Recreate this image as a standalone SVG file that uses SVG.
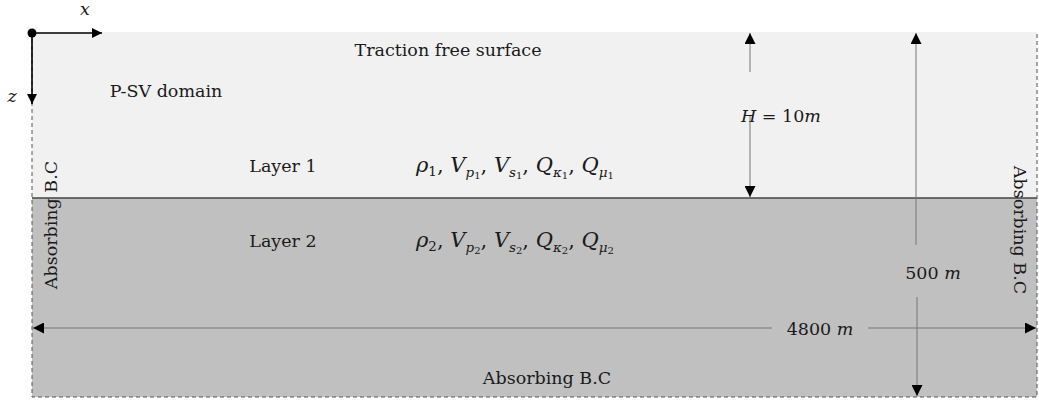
<svg xmlns="http://www.w3.org/2000/svg" width="1039" height="403" viewBox="0 0 1039 403">
<style>
text{font-family:"DejaVu Serif","Liberation Serif",serif;font-size:17.5px;fill:#1a1a1a}
.c{text-anchor:middle}
.i{font-style:italic}
.s{font-size:13.5px}
.ss{font-size:10px}
.dim{stroke:#777;stroke-width:1;fill:none}
.ax{stroke:#000;stroke-width:1.6;fill:none}
</style>
<defs>
<marker id="ah" viewBox="0 0 10 10" refX="10" refY="5" markerWidth="10" markerHeight="10" markerUnits="userSpaceOnUse" orient="auto-start-reverse"><path d="M0,0 L10,5 L0,10 Z" fill="#000"/></marker>
<marker id="ah2" viewBox="0 0 10 10" refX="10" refY="5" markerWidth="11" markerHeight="11" markerUnits="userSpaceOnUse" orient="auto-start-reverse"><path d="M0,0 L10,5 L0,10 Z" fill="#000"/></marker>
</defs>
<g id="layer1"><rect x="32" y="32" width="1005" height="166" fill="#f1f1f1"/></g>
<g id="layer2"><rect x="32" y="198" width="1005" height="199" fill="#c0c0c0"/></g>
<g id="boundary">
<path d="M32,32 V397 H1037 V32" fill="none" stroke="#555" stroke-width="1" stroke-dasharray="4,3"/>
<line x1="32" y1="198" x2="1037" y2="198" stroke="#444" stroke-width="1.6"/>
</g>
<g id="connectors">
<line class="ax" x1="32" y1="33" x2="102" y2="33" marker-end="url(#ah)"/>
<line class="ax" x1="32" y1="33" x2="32" y2="104" marker-end="url(#ah)"/>
<line class="dim" x1="750" y1="72" x2="750" y2="33" marker-end="url(#ah2)"/>
<line class="dim" x1="750" y1="116" x2="750" y2="197" marker-end="url(#ah2)"/>
<line class="dim" x1="916" y1="245" x2="916" y2="33" marker-end="url(#ah2)"/>
<line class="dim" x1="917" y1="297" x2="917" y2="396" marker-end="url(#ah2)"/>
<line class="dim" x1="772" y1="328" x2="33" y2="328" marker-end="url(#ah2)"/>
<line class="dim" x1="868" y1="328" x2="1036" y2="328" marker-end="url(#ah2)"/>
</g>
<g id="origin"><circle cx="32" cy="33" r="4.5" fill="#000"/></g>
<g id="axis-x"><text class="i c" x="85" y="15">x</text></g>
<g id="axis-z"><text class="i c" x="12" y="102">z</text></g>
<g id="surface"><text class="c" x="448" y="56">Traction free surface</text></g>
<g id="domain"><text class="c" x="166" y="97">P-SV domain</text></g>
<g id="layer1-label"><text class="c" x="283" y="172">Layer 1</text></g>
<g id="layer2-label"><text class="c" x="283" y="247">Layer 2</text></g>
<g id="layer1-params"><text x="416" y="172" style="font-size:21px"><tspan class="i">ρ</tspan><tspan class="s" dy="4">1</tspan><tspan dy="-4">, </tspan><tspan class="i">V</tspan><tspan class="s i" dy="5">p</tspan><tspan class="ss" dy="2">1</tspan><tspan dy="-7">, </tspan><tspan class="i">V</tspan><tspan class="s i" dy="5">s</tspan><tspan class="ss" dy="2">1</tspan><tspan dy="-7">, </tspan><tspan class="i">Q</tspan><tspan class="s i" dy="5">κ</tspan><tspan class="ss" dy="2">1</tspan><tspan dy="-7">, </tspan><tspan class="i">Q</tspan><tspan class="s i" dy="5">μ</tspan><tspan class="ss" dy="2">1</tspan></text></g>
<g id="layer2-params"><text x="416" y="247" style="font-size:21px"><tspan class="i">ρ</tspan><tspan class="s" dy="4">2</tspan><tspan dy="-4">, </tspan><tspan class="i">V</tspan><tspan class="s i" dy="5">p</tspan><tspan class="ss" dy="2">2</tspan><tspan dy="-7">, </tspan><tspan class="i">V</tspan><tspan class="s i" dy="5">s</tspan><tspan class="ss" dy="2">2</tspan><tspan dy="-7">, </tspan><tspan class="i">Q</tspan><tspan class="s i" dy="5">κ</tspan><tspan class="ss" dy="2">2</tspan><tspan dy="-7">, </tspan><tspan class="i">Q</tspan><tspan class="s i" dy="5">μ</tspan><tspan class="ss" dy="2">2</tspan></text></g>
<g id="H-label"><text class="c" x="781" y="122"><tspan class="i">H</tspan> = 10<tspan class="i">m</tspan></text></g>
<g id="depth-label"><text class="c" x="933" y="279">500 <tspan class="i">m</tspan></text></g>
<g id="width-label"><text class="c" x="820" y="335">4800 <tspan class="i">m</tspan></text></g>
<g id="left-bc"><text class="c" transform="translate(57,225) rotate(-90)">Absorbing B.C</text></g>
<g id="right-bc"><text class="c" transform="translate(1014,230) rotate(90)">Absorbing B.C</text></g>
<g id="bottom-bc"><text class="c" x="547" y="384">Absorbing B.C</text></g>
</svg>
